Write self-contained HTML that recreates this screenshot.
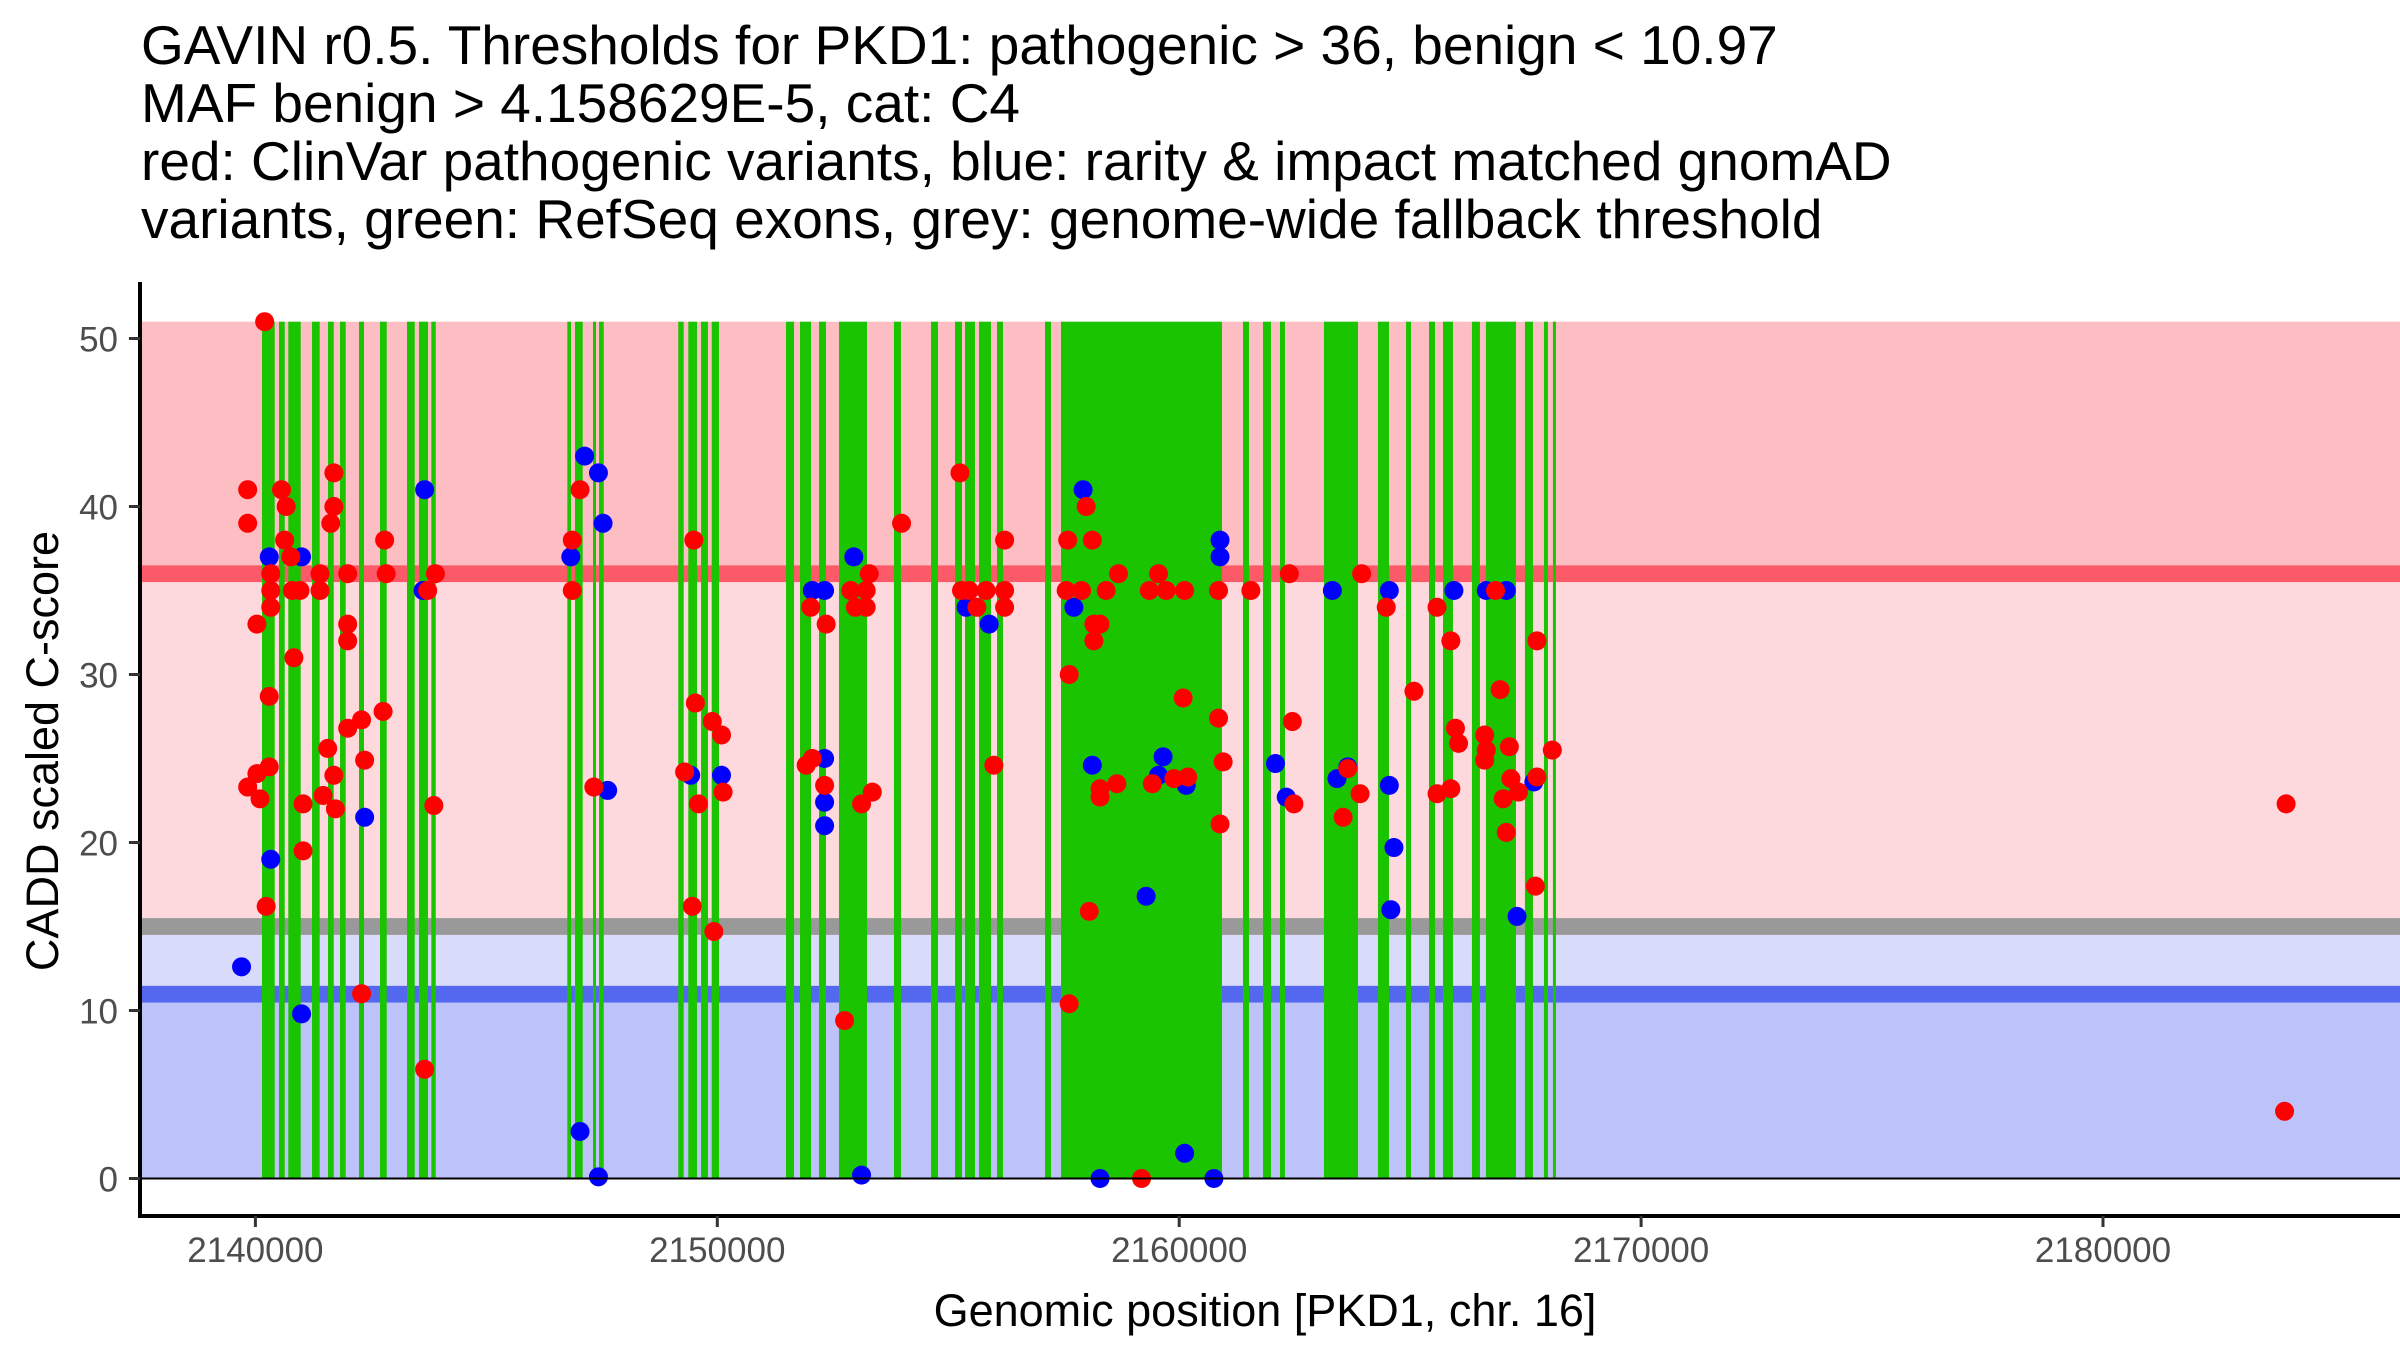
<!DOCTYPE html>
<html><head><meta charset="utf-8"><style>
html,body{margin:0;padding:0;background:#fff;}
svg{display:block;font-family:"Liberation Sans",Arial,sans-serif;}
</style></head><body>
<svg id="chart" width="2400" height="1350" viewBox="0 0 2400 1350" xmlns="http://www.w3.org/2000/svg">
<g font-size="55" fill="#000">
<text x="141" y="64">GAVIN r0.5. Thresholds for PKD1: pathogenic &gt; 36, benign &lt; 10.97</text>
<text x="141" y="122">MAF benign &gt; 4.158629E-5, cat: C4</text>
<text x="141" y="180">red: ClinVar pathogenic variants, blue: rarity &amp; impact matched gnomAD</text>
<text x="141" y="238">variants, green: RefSeq exons, grey: genome-wide fallback threshold</text>
</g>
<g id="bands"></g>
<g id="lines"></g>
<g id="exons"></g>
<g id="points"></g>
<g id="axes"></g>
<text x="1265" y="1326" font-size="45" text-anchor="middle">Genomic position [PKD1, chr. 16]</text>
<text transform="translate(58,751) rotate(-90)" font-size="45" text-anchor="middle">CADD scaled C-score</text>
</svg>
<script>
const xTicks=[2140000,2150000,2160000,2170000,2180000];
const yTicks=[0,10,20,30,40,50];
const pathoThreshold=36;
const benignThreshold=10.97;
const fallbackThreshold=15;
const yMax=51;
const exonStarts=[2140143,2140511,2140712,2141226,2141572,2141832,2142243,2142698,2143282,2143542,2143809,2146753,2146919,2147309,2147440,2149155,2149372,2149648,2149879,2151488,2151791,2152202,2152634,2153825,2154627,2155147,2155363,2155666,2156056,2157095,2157441,2161381,2161814,2162182,2163134,2164303,2164911,2165408,2165711,2166338,2166641,2167485,2167897,2168091];
const exonEnds=[2140418,2140635,2140981,2141392,2141696,2141955,2142351,2142843,2143449,2143737,2143904,2146833,2147086,2147353,2147541,2149272,2149561,2149798,2150037,2151661,2152029,2152353,2153241,2153977,2154778,2155298,2155579,2155925,2156185,2157225,2160926,2161511,2161987,2162290,2163871,2164542,2165019,2165538,2165927,2166511,2167291,2167659,2167983,2168156];
const benignX=[2140300,2140333,2140999,2140999,2139700,2142365,2143664,2143630,
2146828,2147127,2147427,2147527,2147627,2147028,2147427,
2149425,2150091,
2152057,2152323,2152323,2152323,2152323,2152955,2153123,
2155387,2155887,
2157719,2157919,2158119,2158286,2159285,2159552,2159651,2160151,2160118,2160751,2160884,2160884,
2162084,2162317,2163316,2163416,2163649,
2164549,2164549,2164649,2164582,2165948,
2166648,2167081,2167314,2167678];
const benignY=[37,19,37,9.8,12.6,21.5,41,35,
37,43,42,39,23.1,2.8,0.1,
24,24,
35,35,25,22.4,21,37,0.2,
34,33,
34,41,24.6,0,16.8,24,25.1,23.4,1.5,0,38,37,
24.7,22.7,35,23.8,24.5,
35,23.4,19.7,16,35,
35,35,15.6,23.6];
const pathoX=[2140200,2139833,2139833,2140333,2140333,2140333,2140033,2140300,2139833,2140033,2140100,2140300,2140233,
2140566,2140666,2140633,2140766,2140799,2140966,2140833,2141032,2141032,
2141399,2141399,2141699,2141699,2141632,2141565,2141699,2141732,2141465,
2141998,2141998,2141998,2141998,2142298,2142365,2142298,
2142798,2142831,2142764,
2143730,2143897,2143863,2143664,
2146861,2146861,2147028,2147327,
2149292,2149492,2149525,2149592,2149458,2149925,2149891,2150091,2150125,
2151924,2152057,2152023,2152357,2152323,2152756,
2152889,2152989,2153223,2153223,2153289,2153123,2153356,2153989,
2155254,2155287,2155454,2155620,2155820,2156220,2156220,2156220,2155987,
2157586,2157553,2157619,2157619,2157886,2157986,2158119,2158153,2158153,2158286,2158419,2158286,2158286,2158652,2158686,2158053,2159185,
2159352,2159552,2159718,2160118,2159418,2160085,2159885,2160185,
2160851,2160851,2160951,2160884,
2161551,2162384,2162450,2162484,
2163549,2163649,2163916,2163949,
2164482,2165082,
2165582,2165881,2165981,2166048,2165582,2165881,
2166848,2166948,2166614,2166648,2166614,2167148,2167014,2167081,2167181,2167347,2167711,2167745,2167745,2168078,
2183964,2183931];
const pathoY=[51,41,39,36,35,34,33,28.7,23.3,24.1,22.6,24.5,16.2,
41,40,38,37,35,35,31,22.3,19.5,
36,35,42,40,39,25.6,24,22,22.8,
36,33,32,26.8,27.3,24.9,11,
38,36,27.8,
35,36,22.2,6.5,
38,35,41,23.3,
24.2,38,28.3,22.3,16.2,14.7,27.2,26.4,23,
24.6,25,34,33,23.4,9.4,
35,34,35,34,36,22.3,23,39,
42,35,35,34,35,35,34,38,24.6,
38,35,30,10.4,35,40,38,33,32,33,35,23.2,22.7,23.5,36,15.9,0,
35,36,35,35,23.5,28.6,23.8,23.9,
35,27.4,24.8,21.1,
35,36,27.2,22.3,
21.5,24.4,22.9,36,
34,29,
34,32,26.8,25.9,22.9,23.2,
35,29.1,26.4,25.5,24.9,25.7,22.6,20.6,23.8,23,17.4,23.9,32,25.5,
22.3,4];

const NS='http://www.w3.org/2000/svg';
const L=140,R=2400,T=282,B=1216;
function sx(v){return 255.4+(v-2140000)*0.04619;}
function sy(v){return 1178.5-v*16.8;}
function mk(tag,attrs,parent){const e=document.createElementNS(NS,tag);for(const k in attrs)e.setAttribute(k,attrs[k]);parent.appendChild(e);return e;}
const gb=document.getElementById('bands');
let e;
e=mk('rect',{x:L,y:sy(yMax),width:R-L,height:sy(pathoThreshold+0.5)-sy(yMax),fill:'#fdbec3'},gb);


e=mk('rect',{x:L,y:sy(pathoThreshold-0.5),width:R-L,height:sy(fallbackThreshold+0.5)-sy(pathoThreshold-0.5),fill:'#fdd8dc'},gb);


e=mk('rect',{x:L,y:sy(fallbackThreshold-0.5),width:R-L,height:sy(benignThreshold+0.5)-sy(fallbackThreshold-0.5),fill:'#d9dbfb'},gb);


e=mk('rect',{x:L,y:sy(benignThreshold-0.5),width:R-L,height:sy(0)-sy(benignThreshold-0.5),fill:'#bdc2f8'},gb);


const gl=document.getElementById('lines');
e=mk('rect',{x:L,y:sy(pathoThreshold+0.5),width:R-L,height:sy(pathoThreshold-0.5)-sy(pathoThreshold+0.5),fill:'#fc5a68'},gl);


e=mk('rect',{x:L,y:sy(fallbackThreshold+0.5),width:R-L,height:sy(fallbackThreshold-0.5)-sy(fallbackThreshold+0.5),fill:'#999999'},gl);


e=mk('rect',{x:L,y:sy(benignThreshold+0.5),width:R-L,height:sy(benignThreshold-0.5)-sy(benignThreshold+0.5),fill:'#5468ef'},gl);


const ge=document.getElementById('exons');
for(let i=0;i<exonStarts.length;i++){
  const x0=sx(exonStarts[i]),x1=sx(exonEnds[i]);
  e=mk('rect',{x:x0,y:sy(yMax),width:Math.max(x1-x0,3),height:sy(0)-sy(yMax),fill:'#1bc400'},ge);
  
  
}
const gp=document.getElementById('points');
for(let i=0;i<benignX.length;i++){
  e=mk('circle',{cx:sx(benignX[i]),cy:sy(benignY[i]),r:9.5,fill:'#0000ff'},gp);
  
  
}
for(let i=0;i<pathoX.length;i++){
  e=mk('circle',{cx:sx(pathoX[i]),cy:sy(pathoY[i]),r:9.5,fill:'#ff0000'},gp);
  
  
}
const ga=document.getElementById('axes');
e=mk('line',{x1:L,x2:R,y1:sy(0),y2:sy(0),stroke:'#000','stroke-width':2},ga);


e=mk('line',{x1:L,x2:L,y1:T,y2:B+2,stroke:'#000','stroke-width':4},ga);


e=mk('line',{x1:L-2,x2:2400,y1:B,y2:B,stroke:'#000','stroke-width':4},ga);


for(const v of yTicks){
  e=mk('line',{x1:L-11,x2:L,y1:sy(v),y2:sy(v),stroke:'#333','stroke-width':3},ga);
  
  
  e=mk('text',{x:L-22,y:sy(v)+13,'font-size':35,fill:'#4d4d4d','text-anchor':'end'},ga);
  e.textContent=v;
  
  
}
for(const v of xTicks){
  e=mk('line',{x1:sx(v),x2:sx(v),y1:B,y2:B+11,stroke:'#333','stroke-width':3},ga);
  
  
  e=mk('text',{x:sx(v),y:1262,'font-size':35,fill:'#4d4d4d','text-anchor':'middle'},ga);
  e.textContent=v;
  
  
}
</script>
</body></html>
